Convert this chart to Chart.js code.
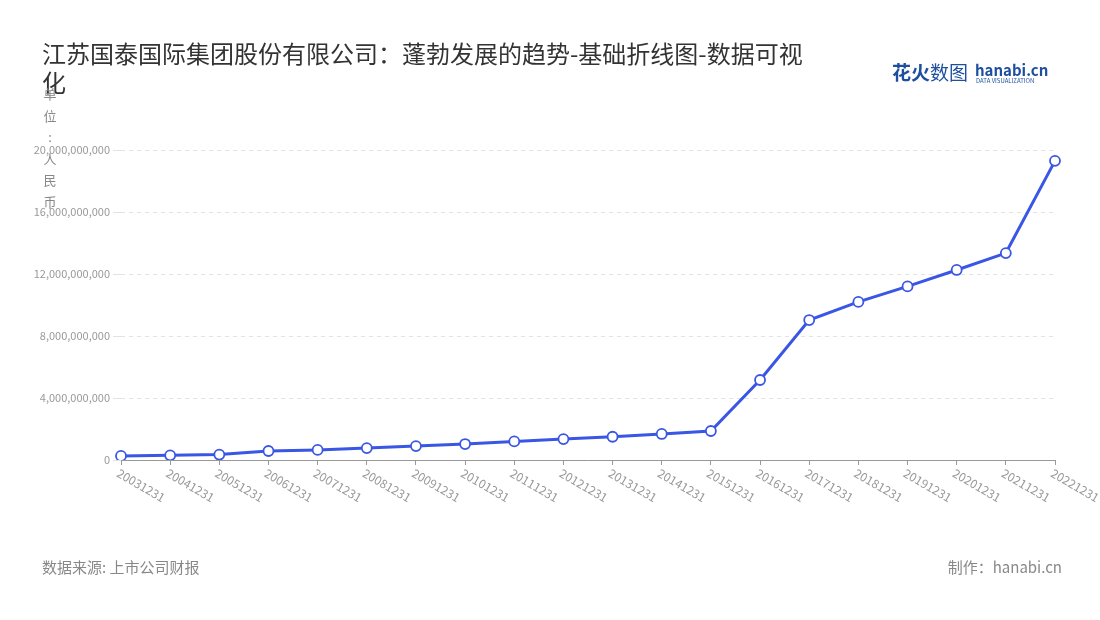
<!DOCTYPE html>
<html><head><meta charset="utf-8">
<script src="https://cdn.jsdelivr.net/npm/chart.js@4/dist/chart.umd.min.js"></script>
<style>html,body{margin:0;padding:0;background:#fff}#w{width:1100px;height:620px}</style>
</head><body><div id="w"><canvas id="c" width="1100" height="620"></canvas></div>
<script>
const categories=["20031231","20041231","20051231","20061231","20071231","20081231","20091231","20101231","20111231","20121231","20131231","20141231","20151231","20161231","20171231","20181231","20191231","20201231","20211231","20221231"];
const revenue=[0.26e9,0.3e9,0.35e9,0.58e9,0.65e9,0.77e9,0.9e9,1.03e9,1.2e9,1.35e9,1.5e9,1.68e9,1.87e9,5.16e9,9.03e9,10.2e9,11.2e9,12.26e9,13.35e9,19.3e9];
const titleLines=["江苏国泰国际集团股份有限公司：蓬勃发展的趋势-基础折线图-数据可视","化"];
const yUnit="单位：人民币".split("");
const F='"Noto Sans CJK SC","Noto Sans",sans-serif';
const deco={id:'deco',afterDraw(ch){const c=ch.ctx;c.save();
const xs=ch.scales.x,yb=ch.scales.y.bottom;
c.fillStyle='#999';c.font='12px '+F;c.textAlign='left';c.textBaseline='middle';
categories.forEach((t,i)=>{c.save();c.translate(xs.getPixelForTick(i)-3,yb+12);c.rotate(Math.PI/6);c.fillText(t,0,0);c.restore();});
c.textBaseline='alphabetic';
c.fillStyle='#333';c.font='24px '+F;
titleLines.forEach((t,i)=>c.fillText(t,42,63+i*29));
c.fillStyle='#888';c.font='13px '+F;c.textAlign='center';
yUnit.forEach((t,i)=>c.fillText(t==='：'?':':t,50,99+i*21.5));
c.textAlign='left';c.font='15px '+F;c.fillStyle='#888';
c.fillText('数据来源: 上市公司财报',42,573);
c.textAlign='right';c.fillText('制作：hanabi.cn',1062,573);
c.textAlign='left';c.font='bold 19px '+F;c.fillStyle='#1e4f9e';c.fillText('花火',892,80);
c.font='19px '+F;c.fillText('数图',930,80);
c.font='bold 15px '+F;c.fillText('hanabi.cn',975,76);
c.font='6px '+F;c.fillText('DATA VISUALIZATION',976,83);
c.restore();}};
new Chart(document.getElementById('c'),{type:'line',
data:{labels:categories,datasets:[{data:revenue,borderColor:'#3a56e4',borderWidth:3,backgroundColor:'#fff',pointBorderColor:'#3a56e4',pointBackgroundColor:'#fff',pointRadius:5,pointBorderWidth:1.8,tension:0}]},
options:{responsive:false,animation:false,layout:{padding:{top:150,left:20,right:45,bottom:100}},
plugins:{legend:{display:false},tooltip:{enabled:false}},
scales:{x:{offset:false,grid:{display:true,drawOnChartArea:false,tickLength:5,color:'#999'},border:{color:'#999'},ticks:{display:false},
afterFit(s){s.height=60;}},
y:{min:0,max:20e9,grid:{color:'#e3e3e3',tickColor:'#e3e3e3'},border:{display:false,dash:[4,4]},
ticks:{stepSize:4e9,color:'#999',font:{size:11,family:F},callback:v=>v.toLocaleString('en-US')},afterFit(s){s.width=101;}}}},
plugins:[deco]});
</script></body></html>
